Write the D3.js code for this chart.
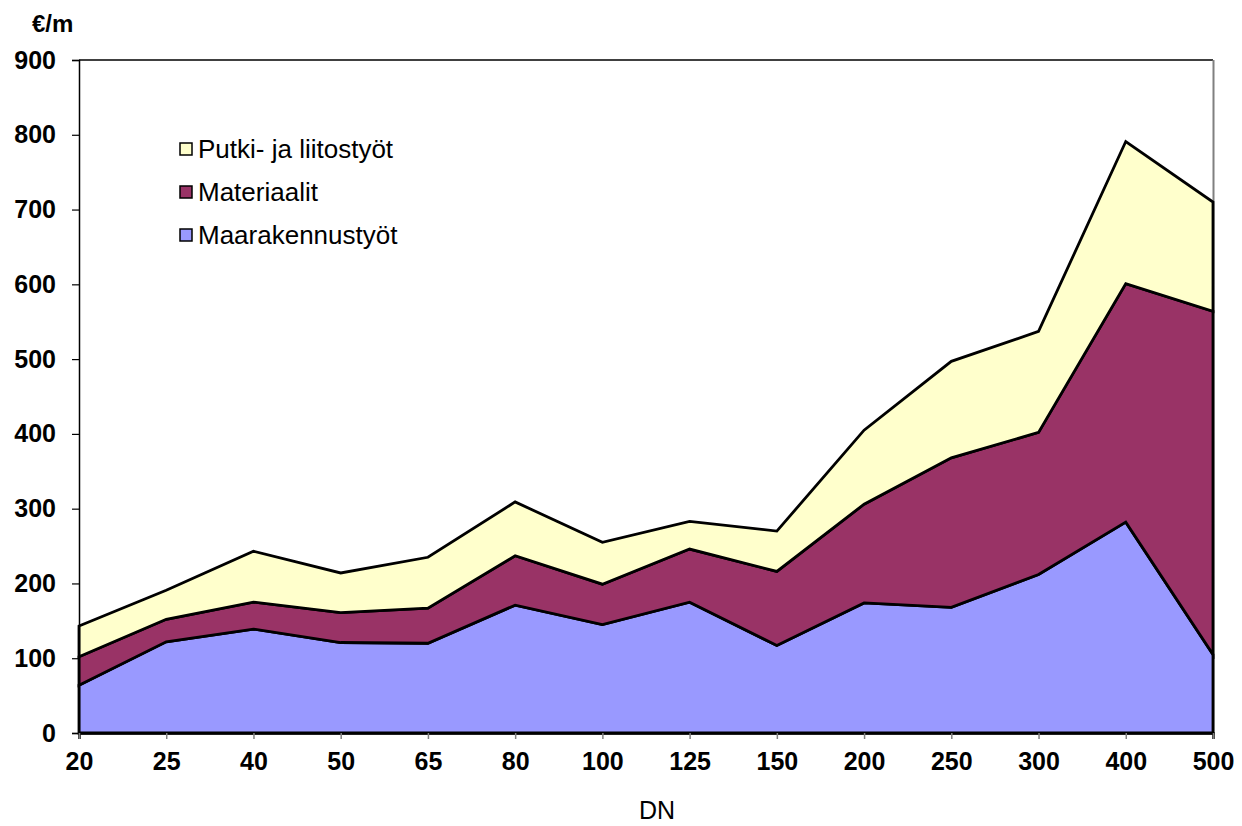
<!DOCTYPE html>
<html>
<head>
<meta charset="utf-8">
<script src="https://cdn.jsdelivr.net/npm/d3@7"></script>
<style>
  body { margin: 0; background: #fff; }
  text { font-family: "Liberation Sans", Arial, sans-serif; }
</style>
</head>
<body>
<svg id="chart" width="1242" height="826"></svg>
<script>
// DN categories
var categories = ["20", "25", "40", "50", "65", "80", "100", "125", "150", "200", "250", "300", "400", "500"];
// cost components, €/m
var maarakennus = [64, 122, 139, 121, 120, 171, 145, 175, 117, 174, 168, 212, 282, 105];
var materiaalit = [38, 30, 36, 40, 47, 66, 54, 71, 99, 132, 200, 190, 319, 459];
var putki = [41, 39, 68, 53, 68, 72, 56, 37, 54, 99, 129, 135, 190, 146];
var seriesNames = ["Maarakennustyöt", "Materiaalit", "Putki- ja liitostyöt"];
var seriesColors = ["#9999ff", "#993366", "#ffffcc"];
var yTicks = [0, 100, 200, 300, 400, 500, 600, 700, 800, 900];

var svg = d3.select("#chart");
// note: "top" is taken by window.top, so plot edges get their own names
var plotLeft = 79, plotRight = 1213, plotTop = 60, plotBottom = 733;

var table = categories.map(function(c, i) {
    return { dn: c, "Maarakennustyöt": maarakennus[i], "Materiaalit": materiaalit[i], "Putki- ja liitostyöt": putki[i] };
});
var stacked = d3.stack().keys(seriesNames)(table);

var x = d3.scalePoint().domain(categories).range([plotLeft, plotRight]);
var y = d3.scaleLinear().domain([0, 900]).range([plotBottom, plotTop]);

// plot border (top black, right gray)
svg.append("line").attr("x1", plotLeft).attr("x2", plotRight).attr("y1", plotTop).attr("y2", plotTop)
    .attr("stroke", "#000").attr("stroke-width", 1.5);
svg.append("line").attr("x1", plotRight + 0.5).attr("x2", plotRight + 0.5).attr("y1", plotTop).attr("y2", plotBottom)
    .attr("stroke", "#808080").attr("stroke-width", 2);

var area = d3.area()
    .x(function(d) { return x(d.data.dn); })
    .y0(function(d) { return y(d[0]); })
    .y1(function(d) { return y(d[1]); });

svg.selectAll("path.layer").data(stacked).enter().append("path")
    .attr("class", "layer")
    .attr("d", area)
    .attr("fill", function(d, i) { return seriesColors[i]; })
    .attr("stroke", "#000")
    .attr("stroke-width", 2.8)
    .attr("stroke-linejoin", "miter");

// y axis
var yAxis = svg.append("g").attr("transform", "translate(" + plotLeft + ",0)")
    .call(d3.axisLeft(y).tickValues(yTicks).tickSize(7).tickPadding(16));
yAxis.attr("font-size", null).attr("font-family", null);
yAxis.select(".domain").attr("stroke", "#000").attr("stroke-width", 1.5);
yAxis.selectAll(".tick line").attr("stroke", "#000").attr("stroke-width", 1.2);
yAxis.selectAll("text").style("font-size", "25px").style("font-weight", "bold").attr("fill", "#000");

// x axis
var xAxis = svg.append("g").attr("transform", "translate(0," + plotBottom + ")")
    .call(d3.axisBottom(x).tickSize(6).tickPadding(13));
xAxis.attr("font-size", null).attr("font-family", null);
xAxis.select(".domain").attr("stroke", "#000").attr("stroke-width", 2.5);
xAxis.selectAll(".tick line").attr("stroke", "#808080").attr("stroke-width", 1.5);
xAxis.selectAll("text").style("font-size", "25px").style("font-weight", "bold").attr("fill", "#000");

// axis titles
svg.append("text").attr("x", 32).attr("y", 32).style("font-size", "24px").style("font-weight", "bold").text("€/m");
svg.append("text").attr("x", 657).attr("y", 819).attr("text-anchor", "middle").style("font-size", "25px").text("DN");

// legend, top entry is the top layer
var legendRows = seriesNames.slice().reverse();
var legend = svg.append("g");
legendRows.forEach(function(name, i) {
    var cy = 149 + i * 43;
    var idx = seriesNames.indexOf(name);
    legend.append("rect").attr("x", 180).attr("y", cy - 6).attr("width", 12).attr("height", 12)
        .attr("fill", seriesColors[idx]).attr("stroke", "#000").attr("stroke-width", 1.5);
    legend.append("text").attr("x", 198).attr("y", cy).attr("dy", "0.36em")
        .style("font-size", "26px").text(name);
});
</script>
</body>
</html>
